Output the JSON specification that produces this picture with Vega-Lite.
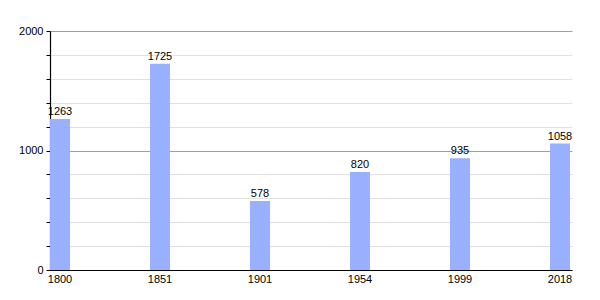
{
  "$schema": "https://vega.github.io/schema/vega-lite/v6.json",
  "autosize": "none",
  "width": 522,
  "height": 239,
  "padding": {"left": 50, "top": 31, "right": 28, "bottom": 30},
  "background": "white",
  "config": {"view": {"stroke": null}, "font": "Liberation Sans"},
  "data": {"values": [
    {"year": "1800", "pop": 1263},
    {"year": "1851", "pop": 1725},
    {"year": "1901", "pop": 578},
    {"year": "1954", "pop": 820},
    {"year": "1999", "pop": 935},
    {"year": "2018", "pop": 1058}
  ]},
  "encoding": {
    "x": {"field": "year", "type": "ordinal", "sort": null,
      "scale": {"paddingInner": 0.8, "paddingOuter": 0.01, "align": 0},
      "axis": {"title": null, "labelAngle": 0, "ticks": false, "domainColor": "#000", "domainWidth": 1.2, "labelFontSize": 11, "labelColor": "#000", "labelPadding": 3, "grid": false}},
    "y": {"field": "pop", "type": "quantitative",
      "scale": {"domain": [0, 2000], "nice": false},
      "axis": {"title": null, "values": [0,200,400,600,800,1000,1200,1400,1600,1800,2000],
        "labelExpr": "datum.value % 1000 === 0 ? datum.label : ''",
        "format": "d",
        "grid": true,
        "gridColor": {"condition": {"test": "datum.value % 1000 === 0", "value": "#a0a0a0"}, "value": "#e0e0e0"},
        "tickColor": "#000", "tickSize": 4, "domainColor": "#000", "domainWidth": 1.2,
        "labelFontSize": 11, "labelColor": "#000", "labelPadding": 3}}
  },
  "layer": [
    {"mark": {"type": "bar", "color": "#99b0ff"}},
    {"mark": {"type": "text", "baseline": "bottom", "dy": -2, "fontSize": 11, "color": "#000"},
      "encoding": {"text": {"field": "pop", "type": "quantitative", "format": "d"}}}
  ]
}
